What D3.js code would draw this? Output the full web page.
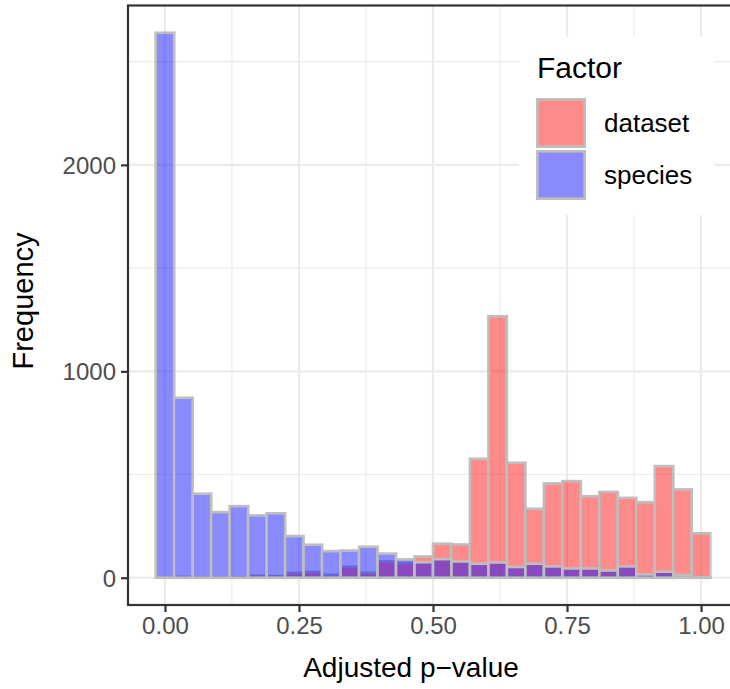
<!DOCTYPE html>
<html>
<head>
<meta charset="utf-8">
<script src="https://cdn.jsdelivr.net/npm/d3@7"></script>
<style>
  body { margin: 0; background: #fff; }
  svg { display: block; font-family: "Liberation Sans", Arial, Helvetica, sans-serif; }
</style>
</head>
<body>
<svg width="730" height="689"></svg>
<script>
// histogram counts, 30 bins centred on k/29
const binCount = 30;
const datasetCounts = [0, 4, 1, 1, 2, 10, 8, 23, 28, 14, 53, 24, 79, 72, 103, 165, 161, 576, 1267, 557, 334, 457, 468, 395, 416, 387, 366, 541, 428, 215];
const speciesCounts = [2640, 872, 407, 318, 347, 302, 312, 202, 160, 129, 132, 150, 117, 89, 75, 90, 79, 68, 74, 52, 68, 55, 45, 45, 35, 55, 16, 29, 13, 3];
const factors = ['dataset', 'species'];
const xTicks = [0, 0.25, 0.5, 0.75, 1];
const yTicks = [0, 1000, 2000];

const svg = d3.select('svg');
const panel = { left: 128, right: 738, top: 5.5, bottom: 605 };

const fillColor = { dataset: 'red', species: 'blue' };
const fillAlpha = 0.46;
const outline = '#bebebe';
const outlineWidth = 2.6;
const gridColor = '#ebebeb';
const inkColor = '#333333';

const binWidth = 1 / (binCount - 1);
const binCentres = d3.range(binCount).map(k => k * binWidth);

const xMin = -binWidth / 2, xMax = 1 + binWidth / 2;
const xPad = (xMax - xMin) * 0.05;
const x = d3.scaleLinear().domain([xMin - xPad, xMax + xPad]).range([panel.left, panel.right]);

const yMax = d3.max(datasetCounts.concat(speciesCounts));
const y = d3.scaleLinear().domain([-yMax * 0.05, yMax * 1.05]).range([panel.bottom, panel.top]);

svg.append('defs').append('clipPath').attr('id', 'clip')
   .append('rect')
   .attr('x', panel.left).attr('y', panel.top)
   .attr('width', panel.right - panel.left).attr('height', panel.bottom - panel.top);

const plot = svg.append('g').attr('clip-path', 'url(#clip)');

// grid
const xMinor = xTicks.slice(1).map((t, i) => (t + xTicks[i]) / 2).concat([1.125]);
const yMinor = [500, 1500, 2500];
plot.selectAll('.xminor').data(xMinor).enter().append('line')
    .attr('x1', d => x(d)).attr('x2', d => x(d))
    .attr('y1', panel.top).attr('y2', panel.bottom)
    .attr('stroke', gridColor).attr('stroke-width', 1.1);
plot.selectAll('.yminor').data(yMinor).enter().append('line')
    .attr('y1', d => y(d)).attr('y2', d => y(d))
    .attr('x1', panel.left).attr('x2', panel.right)
    .attr('stroke', gridColor).attr('stroke-width', 1.1);
plot.selectAll('.xmajor').data(xTicks).enter().append('line')
    .attr('x1', d => x(d)).attr('x2', d => x(d))
    .attr('y1', panel.top).attr('y2', panel.bottom)
    .attr('stroke', gridColor).attr('stroke-width', 2.2);
plot.selectAll('.ymajor').data(yTicks).enter().append('line')
    .attr('y1', d => y(d)).attr('y2', d => y(d))
    .attr('x1', panel.left).attr('x2', panel.right)
    .attr('stroke', gridColor).attr('stroke-width', 2.2);

// bars: dataset first, species drawn over it
const series = [
    { name: 'dataset', counts: datasetCounts },
    { name: 'species', counts: speciesCounts }
];
series.forEach(s => {
    plot.append('g').selectAll('rect')
        .data(s.counts.map((c, i) => ({ c, centre: binCentres[i] })))
        .enter().append('rect')
        .attr('x', d => x(d.centre - binWidth / 2))
        .attr('width', x(binWidth) - x(0))
        .attr('y', d => y(d.c))
        .attr('height', d => y(0) - y(d.c))
        .attr('fill', fillColor[s.name])
        .attr('fill-opacity', fillAlpha)
        .attr('stroke', outline)
        .attr('stroke-width', outlineWidth);
});

// legend inside the panel
const legend = svg.append('g');
legend.append('rect')
    .attr('x', 519).attr('y', 37).attr('width', 195).attr('height', 178)
    .attr('fill', '#fff');
legend.append('text')
    .attr('x', 537).attr('y', 78)
    .attr('font-size', 30).attr('fill', '#000')
    .text('Factor');
const keySize = 50;
factors.forEach((f, i) => {
    const ky = 98 + i * (keySize + 2);
    legend.append('rect')
        .attr('x', 536).attr('y', ky).attr('width', keySize).attr('height', keySize)
        .attr('fill', '#fff');
    legend.append('rect')
        .attr('x', 537.3).attr('y', ky + 1.3).attr('width', keySize - 2.6).attr('height', keySize - 2.6)
        .attr('fill', fillColor[f]).attr('fill-opacity', fillAlpha)
        .attr('stroke', outline).attr('stroke-width', outlineWidth);
    legend.append('text')
        .attr('x', 604).attr('y', ky + 34)
        .attr('font-size', 26).attr('fill', '#000')
        .text(f);
});

// panel border
svg.append('rect')
    .attr('x', panel.left).attr('y', panel.top)
    .attr('width', panel.right - panel.left).attr('height', panel.bottom - panel.top)
    .attr('fill', 'none').attr('stroke', inkColor).attr('stroke-width', 2.2);

// axes
const xAxis = svg.append('g')
    .attr('transform', `translate(0,${panel.bottom})`)
    .call(d3.axisBottom(x).tickValues(xTicks).tickFormat(d3.format('.2f')).tickSize(7).tickPadding(5));
const yAxis = svg.append('g')
    .attr('transform', `translate(${panel.left},0)`)
    .call(d3.axisLeft(y).tickValues(yTicks).tickFormat(d3.format('d')).tickSize(7).tickPadding(5));
[xAxis, yAxis].forEach(a => {
    a.select('.domain').remove();
    a.selectAll('line').attr('stroke', inkColor).attr('stroke-width', 2.2);
    a.selectAll('text').attr('fill', '#4d4d4d').attr('font-size', 24)
        .attr('font-family', '"Liberation Sans", Arial, sans-serif');
});
yAxis.selectAll('text').attr('dy', '0.36em');

// titles
svg.append('text')
    .attr('x', 411).attr('y', 677)
    .attr('text-anchor', 'middle')
    .attr('font-size', 28).attr('fill', '#000')
    .text('Adjusted p\u2212value');
svg.append('text')
    .attr('transform', 'translate(33,301) rotate(-90)')
    .attr('text-anchor', 'middle')
    .attr('font-size', 29).attr('fill', '#000')
    .text('Frequency');
</script>
</body>
</html>
